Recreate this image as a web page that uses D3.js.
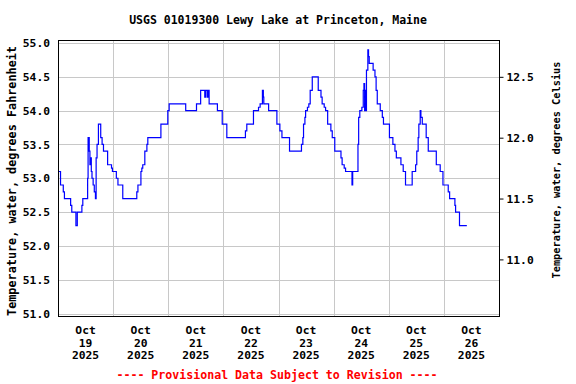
<!DOCTYPE html>
<html>
<head>
<meta charset="utf-8">
<script src="https://cdn.jsdelivr.net/npm/d3@7"></script>
<style>
  body { margin: 0; background: #fff; }
  text { font-family: "DejaVu Sans Mono", monospace; font-weight: bold; fill: #000; }
</style>
</head>
<body>
<div id="chart-1"></div>
<script>
// observations: hours after Oct 19 2025 00:00, and water temperature (deg F) from that time on
var obsHours = [0, 1.1, 2.3, 2.8, 5.5, 6.0, 7.8, 8.4, 10.4, 10.8, 12.9, 13.1, 13.6, 13.9, 14.2, 14.5, 14.8, 15.3, 15.8, 16.3,
  16.6, 17.0, 17.6, 18.6, 19.2, 19.8, 21.6, 23.3, 23.7, 25.4, 26.1, 28.2, 34.3, 34.8, 36.1, 36.5, 36.9, 37.8, 38.7, 39.1,
  44.8, 47.8, 48.4, 55.6, 60.3, 62.1, 63.9, 64.3, 65.0, 65.3, 65.8, 69.4, 71.5, 73.5, 81.6, 82.2, 85.1, 87.3, 88.0, 89.0,
  89.4, 89.6, 91.7, 95.3, 96.6, 97.5, 100.8, 106.0, 106.6, 106.9, 107.5, 107.8, 108.6, 109.2, 109.8, 110.7, 113.3, 114.5, 115.0, 115.9,
  116.5, 117.4, 118.8, 119.4, 120.5, 123.2, 123.7, 124.6, 125.2, 128.0, 128.3, 130.6, 130.9, 131.4, 132.3, 132.9, 133.2, 133.5, 133.8, 134.0,
  134.3, 134.9, 135.2, 135.5, 137.2, 138.0, 138.5, 139.0, 140.3, 141.2, 141.7, 144.3, 145.8, 146.7, 147.3, 149.3, 150.3, 151.3, 154.2, 155.7,
  156.2, 156.8, 157.1, 157.7, 158.0, 158.6, 160.3, 161.2, 164.7, 166.4, 167.6, 169.9, 170.5, 172.8, 173.1, 174.8, 178.0]
var obsTempF = [53.1, 52.9, 52.8, 52.7, 52.6, 52.5, 52.3, 52.5, 52.6, 52.7, 53.0, 53.6, 53.4, 53.2, 53.3, 53.1, 53.0, 52.9, 52.8, 52.7,
  53.3, 53.5, 53.8, 53.6, 53.5, 53.4, 53.2, 53.15, 53.1, 53.0, 52.9, 52.7, 52.8, 52.9, 53.1, 53.15, 53.2, 53.4, 53.5, 53.6,
  53.8, 54.0, 54.1, 54.0, 54.1, 54.3, 54.2, 54.3, 54.2, 54.3, 54.1, 54.0, 53.8, 53.6, 53.7, 53.8, 54.0, 54.05, 54.1, 54.3,
  54.2, 54.1, 54.0, 53.8, 53.7, 53.6, 53.4, 53.5, 53.6, 53.8, 53.9, 54.0, 54.05, 54.1, 54.3, 54.5, 54.3, 54.2, 54.1, 54.05,
  54.0, 53.8, 53.7, 53.6, 53.4, 53.3, 53.2, 53.15, 53.1, 52.9, 53.1, 53.5, 53.9, 54.0, 54.05, 54.3, 54.4, 54.0, 54.3, 54.0,
  54.6, 54.9, 54.8, 54.7, 54.6, 54.5, 54.3, 54.1, 54.0, 53.9, 53.8, 53.6, 53.5, 53.4, 53.3, 53.2, 53.1, 52.9, 53.1, 53.2,
  53.4, 53.6, 53.8, 54.0, 53.9, 53.8, 53.6, 53.4, 53.2, 53.1, 52.9, 52.8, 52.7, 52.6, 52.5, 52.3, 52.3]

var fTicks = [51.0, 51.5, 52.0, 52.5, 53.0, 53.5, 54.0, 54.5, 55.0]
var cTicks = [11.0, 11.5, 12.0, 12.5]
var dayLabels = ['Oct 19 2025', 'Oct 20 2025', 'Oct 21 2025', 'Oct 22 2025', 'Oct 23 2025', 'Oct 24 2025', 'Oct 25 2025', 'Oct 26 2025']

var titleText = 'USGS 01019300 Lewy Lake at Princeton, Maine'
var leftLabel = 'Temperature, water, degrees Fahrenheit'
var rightLabel = 'Temperature, water, degrees Celsius'
var footText = '---- Provisional Data Subject to Revision ----'

var width = 576
var height = 384
var plot = { left: 58, right: 499, top: 40, bottom: 316 }

var start = new Date(2025, 9, 19)
var hourMs = 3600 * 1000

var svg = d3.select('#chart-1').append('svg')
  .attr('width', width)
  .attr('height', height)

svg.append('rect').attr('width', width).attr('height', height).attr('fill', '#fff')

var xScale = d3.scaleTime()
  .domain([start, new Date(2025, 9, 27)])
  .range([plot.left, plot.right])

var yScale = d3.scaleLinear()
  .domain([51, 55])
  .range([313.5, 43])

// celsius axis is tied to the fahrenheit one
var cToY = function(c) { return yScale(c * 1.8 + 32) }

// grid
var days = d3.timeDay.range(d3.timeDay.offset(start, 1), new Date(2025, 9, 27))
svg.append('g').selectAll('line.v')
  .data(days).enter().append('line')
  .attr('x1', d => Math.round(xScale(d)) + 0.5)
  .attr('x2', d => Math.round(xScale(d)) + 0.5)
  .attr('y1', plot.top).attr('y2', plot.bottom)
  .attr('stroke', '#c8c8c8')

svg.append('g').selectAll('line.h')
  .data(fTicks).enter().append('line')
  .attr('x1', plot.left).attr('x2', plot.right)
  .attr('y1', d => Math.round(yScale(d)) + 0.5)
  .attr('y2', d => Math.round(yScale(d)) + 0.5)
  .attr('stroke', '#c8c8c8')

// data line
var line = d3.line()
  .x((d, i) => xScale(new Date(start.getTime() + d * hourMs)))
  .y((d, i) => yScale(obsTempF[i]))
  .curve(d3.curveStepAfter)

svg.append('path')
  .datum(obsHours)
  .attr('d', line)
  .attr('fill', 'none')
  .attr('stroke', '#0000ff')
  .attr('stroke-width', 1.2)

// frame
svg.append('rect')
  .attr('x', plot.left + 0.5).attr('y', plot.top + 0.5)
  .attr('width', plot.right - plot.left).attr('height', plot.bottom - plot.top)
  .attr('fill', 'none').attr('stroke', '#000')

// left axis (fahrenheit)
var yAxis = d3.axisLeft(yScale)
  .tickValues(fTicks)
  .tickSize(0)
  .tickPadding(8)
  .tickFormat(d3.format('.1f'))

svg.append('g')
  .attr('transform', 'translate(' + plot.left + ',0)')
  .call(yAxis)
  .call(g => g.select('.domain').remove())
  .selectAll('text')
  .attr('font-family', null)
  .attr('font-size', null)
  .style('font-size', '11.3px')

// right axis (celsius)
var cScale = d3.scaleLinear()
  .domain([yScale.invert(313.5), yScale.invert(43)].map(f => (f - 32) / 1.8))
  .range([cToY((51 - 32) / 1.8), cToY((55 - 32) / 1.8)])

var cAxis = d3.axisRight(cScale)
  .tickValues(cTicks)
  .tickSize(4)
  .tickPadding(3)
  .tickFormat(d3.format('.1f'))

svg.append('g')
  .attr('transform', 'translate(' + (plot.right + 0.5) + ',0)')
  .call(cAxis)
  .call(g => g.select('.domain').remove())
  .call(g => g.selectAll('.tick line').attr('stroke', '#000'))
  .selectAll('text')
  .attr('font-family', null)
  .attr('font-size', null)
  .style('font-size', '11.3px')

// bottom labels, centred at noon of each day
var noons = d3.timeDay.range(start, new Date(2025, 9, 27)).map(d => new Date(d.getTime() + 12 * hourMs))
var xLabels = svg.append('g').selectAll('text')
  .data(noons).enter().append('text')
  .attr('text-anchor', 'middle')
  .style('font-size', '11.3px')

xLabels.each(function(d, i) {
  var parts = dayLabels[i].split(' ')
  var t = d3.select(this)
  parts.forEach(function(p, j) {
    t.append('tspan')
      .attr('x', xScale(d))
      .attr('y', 334 + j * 12.7)
      .text(p)
  })
})

// titles
svg.append('text')
  .attr('x', 278).attr('y', 24)
  .attr('text-anchor', 'middle')
  .style('font-size', '11.5px')
  .text(titleText)

svg.append('text')
  .attr('transform', 'translate(16,181) rotate(-90)')
  .attr('text-anchor', 'middle')
  .style('font-size', '11.8px')
  .text(leftLabel)

svg.append('text')
  .attr('transform', 'translate(560,170) rotate(-90)')
  .attr('text-anchor', 'middle')
  .style('font-size', '10.3px')
  .text(rightLabel)

svg.append('text')
  .attr('x', 277).attr('y', 379)
  .attr('text-anchor', 'middle')
  .style('font-size', '11.6px')
  .style('fill', '#ff0000')
  .text(footText)
</script>
</body>
</html>
